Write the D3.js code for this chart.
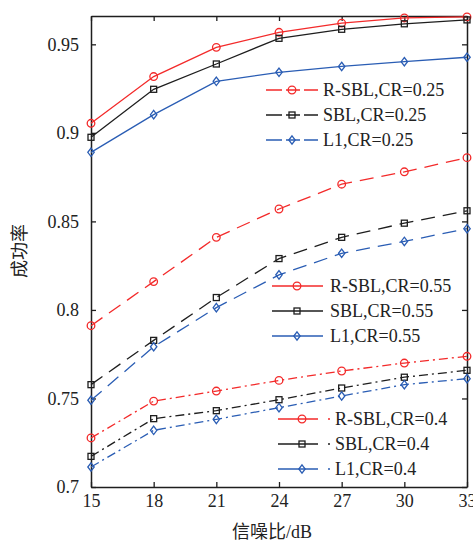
<!DOCTYPE html>
<html>
<head>
<meta charset="utf-8">
<script src="https://cdn.jsdelivr.net/npm/d3@7"></script>
<style>
  html, body { margin: 0; padding: 0; background: #fff; }
  svg { display: block; }
  text { fill: #222; }
</style>
</head>
<body>
<svg id="chart" width="473" height="542"></svg>
<script>
// 信噪比 (dB)
const snr = [15, 18, 21, 24, 27, 30, 33];
const yTicks = [0.7, 0.75, 0.8, 0.85, 0.9, 0.95];

// solid group
const rsblA = [0.9054, 0.9318, 0.9483, 0.9568, 0.9620, 0.9649, 0.9655];
const sblA  = [0.8975, 0.9246, 0.9389, 0.9534, 0.9585, 0.9616, 0.9638];
const l1A   = [0.8890, 0.9103, 0.9291, 0.9342, 0.9375, 0.9402, 0.9427];
// dashed group
const rsblB = [0.7911, 0.8160, 0.8410, 0.8570, 0.8710, 0.8780, 0.8860];
const sblB  = [0.7578, 0.7828, 0.8070, 0.8290, 0.8410, 0.8490, 0.8560];
const l1B   = [0.7490, 0.7792, 0.8013, 0.8198, 0.8320, 0.8387, 0.8459];
// dash-dot group
const rsblC = [0.7277, 0.7485, 0.7542, 0.7602, 0.7655, 0.7700, 0.7738];
const sblC  = [0.7173, 0.7386, 0.7431, 0.7493, 0.7559, 0.7620, 0.7659];
const l1C   = [0.7113, 0.7320, 0.7382, 0.7448, 0.7514, 0.7578, 0.7612];

const legendA = ["R-SBL,CR=0.25", "SBL,CR=0.25", "L1,CR=0.25"];
const legendB = ["R-SBL,CR=0.55", "SBL,CR=0.55", "L1,CR=0.55"];
const legendC = ["R-SBL,CR=0.4", "SBL,CR=0.4", "L1,CR=0.4"];

const RED = "#f32a2a", BLACK = "#1e1e1e", BLUE = "#2a5db4";
const DASH = "14,8", DASHDOT = "9,4,2,4";
const SERIF = "'Liberation Serif', 'Noto Sans CJK SC', serif";

const W = 473, H = 542;
const m = { left: 91, top: 16, right: 6, bottom: 55 };
const svg = d3.select("#chart");

const x = d3.scaleLinear().domain([15, 33]).range([m.left, W - m.right]);
const y = d3.scaleLinear().domain([0.7, 0.966]).range([H - m.bottom, m.top]);

const fmt = d => d3.format("")(+d.toFixed(2));

// frame with inward ticks on all sides
const axisStyle = g => {
  g.selectAll(".domain").attr("stroke", BLACK).attr("stroke-width", 1.5);
  g.selectAll(".tick line").attr("stroke", BLACK).attr("stroke-width", 1.3);
  g.selectAll("text").attr("font-family", SERIF).attr("font-size", 18).attr("fill", "#222");
};
svg.append("g").attr("transform", `translate(0,${H - m.bottom})`)
  .call(d3.axisBottom(x).tickValues(snr).tickSizeInner(-5).tickSizeOuter(0).tickPadding(7).tickFormat(d3.format("d")))
  .call(axisStyle);
svg.append("g").attr("transform", `translate(0,${m.top})`)
  .call(d3.axisTop(x).tickValues(snr).tickSizeInner(-5).tickSizeOuter(0).tickFormat(""))
  .call(axisStyle);
svg.append("g").attr("transform", `translate(${m.left},0)`)
  .call(d3.axisLeft(y).tickValues(yTicks).tickSizeInner(-5).tickSizeOuter(0).tickPadding(12).tickFormat(fmt))
  .call(axisStyle);
svg.append("g").attr("transform", `translate(${W - m.right},0)`)
  .call(d3.axisRight(y).tickValues(yTicks).tickSizeInner(-5).tickSizeOuter(0).tickFormat(""))
  .call(axisStyle);

// markers
function marker(g, type, cx, cy, color) {
  if (type === "circle") {
    g.append("circle").attr("cx", cx).attr("cy", cy).attr("r", 3.8)
      .attr("fill", "none").attr("stroke", color).attr("stroke-width", 1.3);
  } else if (type === "square") {
    g.append("rect").attr("x", cx - 3).attr("y", cy - 3).attr("width", 6).attr("height", 6)
      .attr("fill", "none").attr("stroke", color).attr("stroke-width", 1.3);
  } else {
    g.append("path").attr("d", `M${cx},${cy - 4.2}L${cx + 3.2},${cy}L${cx},${cy + 4.2}L${cx - 3.2},${cy}Z`)
      .attr("fill", "none").attr("stroke", color).attr("stroke-width", 1.3);
  }
}

const series = [
  { v: rsblA, c: RED, mk: "circle", dash: null },
  { v: sblA, c: BLACK, mk: "square", dash: null },
  { v: l1A, c: BLUE, mk: "diamond", dash: null },
  { v: rsblB, c: RED, mk: "circle", dash: DASH },
  { v: sblB, c: BLACK, mk: "square", dash: DASH },
  { v: l1B, c: BLUE, mk: "diamond", dash: DASH },
  { v: rsblC, c: RED, mk: "circle", dash: DASHDOT },
  { v: sblC, c: BLACK, mk: "square", dash: DASHDOT },
  { v: l1C, c: BLUE, mk: "diamond", dash: DASHDOT },
];

const line = d3.line().x((d, i) => x(snr[i])).y(d => y(d));
const plot = svg.append("g");
series.forEach(s => {
  plot.append("path").attr("d", line(s.v)).attr("fill", "none")
    .attr("stroke", s.c).attr("stroke-width", 1.3)
    .attr("stroke-dasharray", s.dash);
  s.v.forEach((d, i) => marker(plot, s.mk, x(snr[i]), y(d), s.c));
});

// legends
const styles = [[RED, "circle"], [BLACK, "square"], [BLUE, "diamond"]];
function legend(labels, rows, x0, x1, mx, tx, dash) {
  const g = svg.append("g");
  labels.forEach((t, i) => {
    const [c, mk] = styles[i];
    g.append("line").attr("x1", x0).attr("x2", x1).attr("y1", rows[i]).attr("y2", rows[i])
      .attr("stroke", c).attr("stroke-width", 1.3).attr("stroke-dasharray", dash);
    marker(g, mk, mx, rows[i], c);
    g.append("text").attr("x", tx).attr("y", rows[i]).attr("dy", "0.35em")
      .attr("font-family", SERIF).attr("font-size", 18).text(t);
  });
}
legend(legendA, [90, 115, 140], 266, 318, 292, 323, "16,4,14,4,14,4");
legend(legendB, [286, 311, 336], 272, 323, 297, 330, null);
legend(legendC, [419, 444, 469], 278, 330, 302, 335, "40,10,2,100");

// axis titles
svg.append("text").attr("x", 272).attr("y", 538).attr("text-anchor", "middle")
  .attr("font-family", SERIF).attr("font-size", 18).text("信噪比/dB");
svg.append("text").attr("transform", "translate(26,251) rotate(-90)").attr("text-anchor", "middle")
  .attr("font-family", SERIF).attr("font-size", 18).text("成功率");
</script>
</body>
</html>
